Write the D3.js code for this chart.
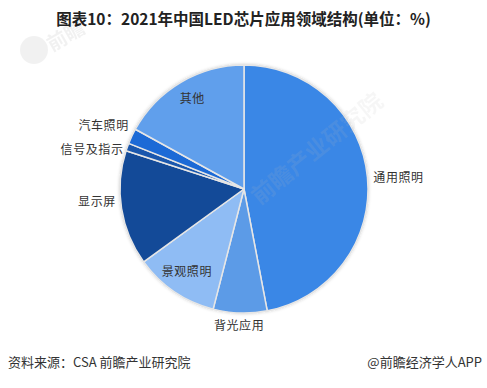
<!DOCTYPE html>
<html>
<head>
<meta charset="utf-8">
<style>
  body { margin: 0; background: #fff; }
  svg { display: block; font-family: "Noto Sans CJK SC", "Noto Sans", sans-serif; }
</style>
</head>
<body>
<svg width="487" height="388"></svg>
<script src="https://d3js.org/d3.v7.min.js"></script>
<script>
    // data (percent)
    var categories = ["通用照明", "背光应用", "景观照明", "显示屏", "信号及指示", "汽车照明", "其他"];
    var values = [47, 7, 11, 15, 1, 2, 17];
    var colors = ["#3a87e6", "#5c9be7", "#8fbcf4", "#134a98", "#1a57ad", "#1c6ad6", "#609fec"];

    // label layout: inside the slice or outside, plus small vertical nudges
    var inside = [false, false, true, false, false, false, true];
    var nudge = [0, 0, -3, -10, 6, -7, -4];

    var svg = d3.select("svg"),
        width = +svg.attr("width"),
        height = +svg.attr("height");

    var cx = 244, cy = 189, radius = 124;

    var defs = svg.append("defs");
    var f = defs.append("filter").attr("id", "shadow")
        .attr("x", "-20%").attr("y", "-20%").attr("width", "140%").attr("height", "140%");
    f.append("feDropShadow").attr("dx", 0).attr("dy", 0)
        .attr("stdDeviation", 1.5).attr("flood-color", "#000").attr("flood-opacity", 0.18);

    // title
    svg.append("text")
        .attr("x", width / 2)
        .attr("y", 25)
        .attr("text-anchor", "middle")
        .style("font-size", "15.5px")
        .style("font-weight", "bold")
        .style("fill", "#222")
        .text("图表10：2021年中国LED芯片应用领域结构(单位：%)");

    // faint watermark top-left
    var wm = svg.append("g").attr("opacity", 0.05);
    wm.append("circle").attr("cx", 34).attr("cy", 50).attr("r", 14).attr("fill", "#000");
    wm.append("text").attr("x", 52).attr("y", 52)
        .attr("transform", "rotate(-30,52,52)")
        .style("font-size", "20px").style("font-weight", "bold").text("前瞻");

    var pie = d3.pie().sort(null).value(function(d) { return d; });
    var arcs = pie(values);

    var arc = d3.arc().innerRadius(0).outerRadius(radius);

    var g = svg.append("g").attr("transform", "translate(" + cx + "," + cy + ")");

    g.append("circle")
        .attr("r", radius + 1)
        .attr("fill", "#e4e4e4")
        .attr("filter", "url(#shadow)");

    g.selectAll("path.slice")
        .data(arcs)
        .enter().append("path")
        .attr("class", "slice")
        .attr("d", arc)
        .attr("fill", function(d, i) { return colors[i]; })
        .attr("stroke", "#e6e6e6")
        .attr("stroke-width", 1.5)
        .attr("stroke-linejoin", "round");

    // watermark over the pie
    g.append("text")
        .attr("transform", "translate(72,-42) rotate(-39)")
        .attr("text-anchor", "middle")
        .attr("dominant-baseline", "central")
        .style("font-size", "23px")
        .style("font-weight", "bold")
        .style("fill", "#bbb")
        .style("opacity", 0.12)
        .text("前瞻产业研究院");

    var fontSize = 12;

    arcs.forEach(function(d, i) {
        var a = (d.startAngle + d.endAngle) / 2;
        var s = Math.sin(a), c = -Math.cos(a);
        var t = g.append("text")
            .style("font-size", fontSize + "px")
            .style("fill", "#333")
            .style("letter-spacing", "0.6px")
            .attr("dominant-baseline", "central")
            .attr("text-anchor", "middle")
            .text(categories[i]);
        var x, y;
        if (inside[i]) {
            x = s * radius * 0.82;
            y = c * radius * 0.82;
        } else {
            var w = t.node().getComputedTextLength();
            var rr = radius + 6;
            x = s * rr + s * w / 2;
            y = c * rr + c * fontSize / 2;
        }
        t.attr("x", x).attr("y", y + nudge[i]);
    });

    // footer
    svg.append("text")
        .attr("x", 8)
        .attr("y", 367)
        .style("font-size", "13px")
        .style("fill", "#333")
        .text("资料来源：CSA 前瞻产业研究院");

    svg.append("text")
        .attr("x", width - 5)
        .attr("y", 367)
        .attr("text-anchor", "end")
        .style("font-size", "13px")
        .style("fill", "#333")
        .text("@前瞻经济学人APP");
</script>
</body>
</html>
